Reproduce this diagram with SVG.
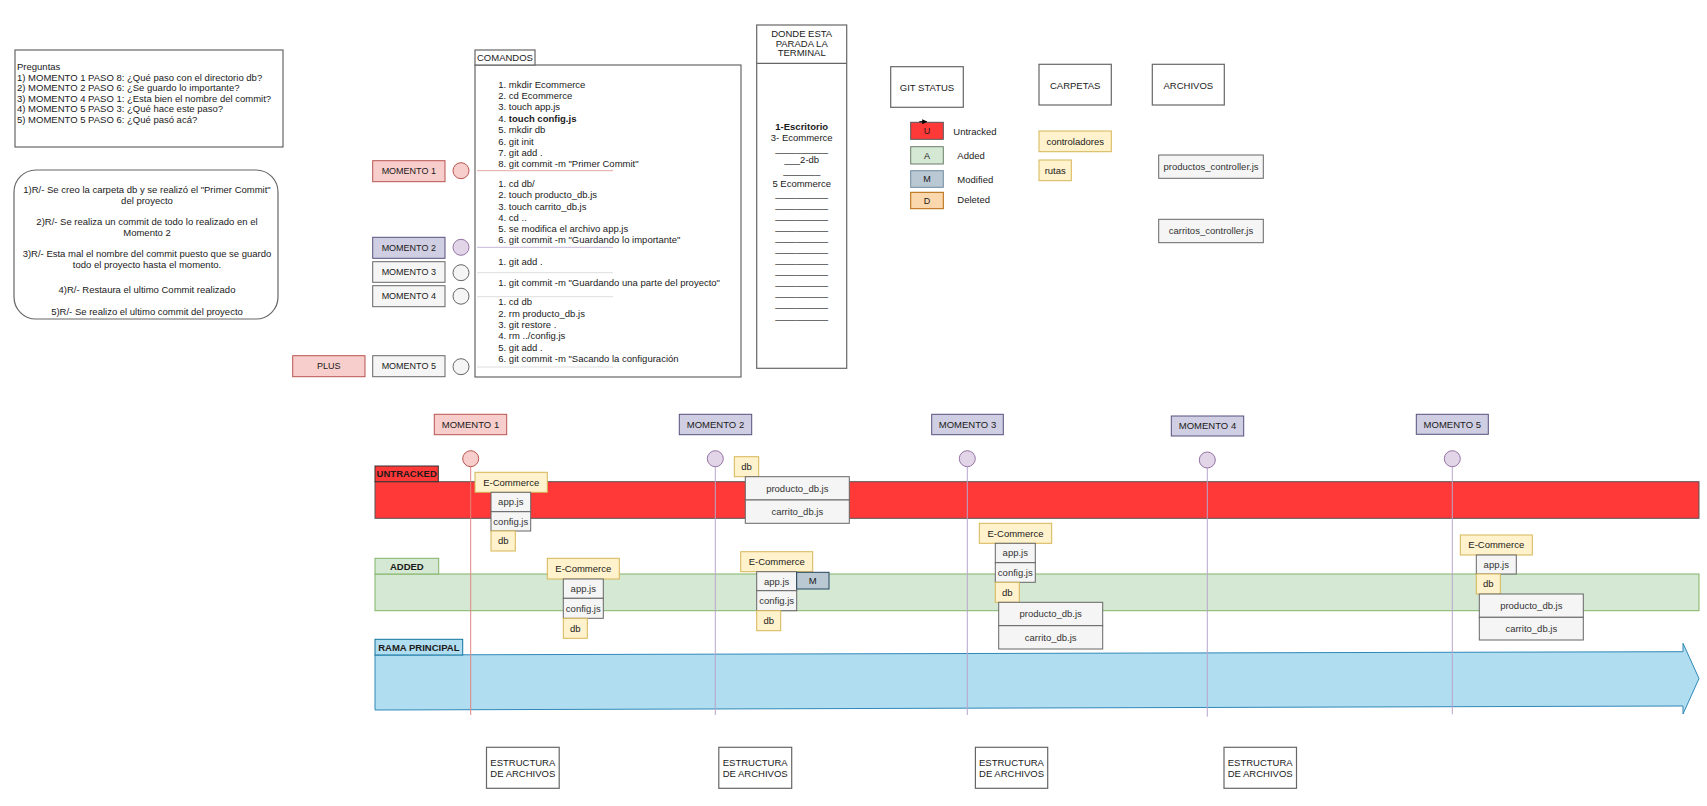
<svg xmlns="http://www.w3.org/2000/svg" width="1707" height="806" viewBox="0 0 1707 806">
  <style>
    text { font-family: "Liberation Sans", Arial, sans-serif; font-size: 9.5px; fill: #1a1a1a; }
    .c { text-anchor: middle; }
    .b { font-weight: bold; }
    .sm { font-size: 9px; }
    .frame { fill: #ffffff; stroke: #666666; stroke-width: 1.2; }
    .yel { fill: #fff2cc; stroke: #d6b656; }
    .file { fill: #f5f5f5; stroke: #666666; }
    .file + text, .ft { fill: #333333; }
    .red { fill: #f8cecc; stroke: #b85450; }
    .pur { fill: #d0cee2; stroke: #56517e; }
    .lil { fill: #e1d5e7; stroke: #9673a6; }
    .gry { fill: #f5f5f5; stroke: #666666; }
    .sepR { stroke: #e6a5a3; stroke-width: 1; }
    .sepP { stroke: #c7b7d9; stroke-width: 1; }
    .sepG { stroke: #dddddd; stroke-width: 1; }
  </style>
  <defs>
    <marker id="tip" viewBox="0 0 10 10" refX="9" refY="5" markerWidth="5" markerHeight="5" orient="auto">
      <path d="M0,0 L10,5 L0,10 z" fill="#000000"/>
    </marker>
  </defs>

  <rect width="1707" height="806" fill="#ffffff"/>

  <!-- Questions -->
  <g id="preguntas">
    <rect class="frame" x="15" y="50" width="268" height="97"/>
    <text x="17" y="70">Preguntas</text>
    <text x="17" y="80.7">1) MOMENTO 1 PASO 8: ¿Qué paso con el directorio db?</text>
    <text x="17" y="91.2">2) MOMENTO 2 PASO 6: ¿Se guardo lo importante?</text>
    <text x="17" y="101.8">3) MOMENTO 4 PASO 1: ¿Esta bien el nombre del commit?</text>
    <text x="17" y="112.3">4) MOMENTO 5 PASO 3: ¿Qué hace este paso?</text>
    <text x="17" y="122.8">5) MOMENTO 5 PASO 6: ¿Qué pasó acá?</text>
  </g>

  <!-- Answers -->
  <g id="respuestas">
    <rect class="frame" x="14" y="170" width="264" height="149" rx="22" ry="22"/>
    <text class="c" x="147" y="193">1)R/- Se creo la carpeta db y se realizó el "Primer Commit"</text>
    <text class="c" x="147" y="203.5">del proyecto</text>
    <text class="c" x="147" y="225">2)R/- Se realiza un commit de todo lo realizado en el</text>
    <text class="c" x="147" y="235.7">Momento 2</text>
    <text class="c" x="147" y="257.3">3)R/- Esta mal el nombre  del commit puesto que se guardo</text>
    <text class="c" x="147" y="268.2">todo el proyecto hasta el momento.</text>
    <text class="c" x="147" y="293.3">4)R/- Restaura el ultimo Commit realizado</text>
    <text class="c" x="147" y="315">5)R/- Se realizo el ultimo commit del proyecto</text>
  </g>

  <!-- Left moment markers -->
  <g id="momento1-izq">
    <rect class="red" x="372.7" y="160.7" width="72.3" height="21"/>
    <text class="c sm" x="408.8" y="174.4">MOMENTO 1</text>
    <circle class="red" cx="461" cy="170.7" r="8"/>
  </g>
  <g id="momento2-izq">
    <rect class="pur" x="372.7" y="237.3" width="72.3" height="21"/>
    <text class="c sm" x="408.8" y="251">MOMENTO 2</text>
    <circle class="lil" cx="461" cy="247.3" r="8"/>
  </g>
  <g id="momento3-izq">
    <rect class="gry" x="372.7" y="261.7" width="72.3" height="20.6"/>
    <text class="c sm" x="408.8" y="275.3">MOMENTO 3</text>
    <circle class="gry" cx="461" cy="272.7" r="8"/>
  </g>
  <g id="momento4-izq">
    <rect class="gry" x="372.7" y="285.7" width="72.3" height="21"/>
    <text class="c sm" x="408.8" y="299.4">MOMENTO 4</text>
    <circle class="gry" cx="461" cy="296.2" r="8"/>
  </g>
  <g id="momento5-izq">
    <rect class="gry" x="372.7" y="355.7" width="72.3" height="21"/>
    <text class="c sm" x="408.8" y="369.4">MOMENTO 5</text>
    <circle class="gry" cx="461" cy="366.7" r="8"/>
  </g>
  <g id="plus">
    <rect class="red" x="292.7" y="355.7" width="72.3" height="21"/>
    <text class="c sm" x="328.8" y="369.4">PLUS</text>
  </g>

  <!-- Commands -->
  <g id="comandos">
    <rect class="frame" x="475" y="65" width="266" height="312"/>
    <rect class="frame" x="475" y="50" width="60" height="15"/>
    <text x="477" y="61">COMANDOS</text>
    <text x="498.3" y="87.7">1. mkdir Ecommerce</text>
    <text x="498.3" y="99.1">2. cd Ecommerce</text>
    <text x="498.3" y="110.4">3. touch app.js</text>
    <text x="498.3" y="122.1">4. <tspan class="b">touch config.js</tspan></text>
    <text x="498.3" y="133.4">5. mkdir db</text>
    <text x="498.3" y="144.7">6. git init</text>
    <text x="498.3" y="156.1">7. git add .</text>
    <text x="498.3" y="167.4">8. git commit -m "Primer Commit"</text>
    <line class="sepR" x1="477" y1="170.7" x2="613" y2="170.7"/>
    <text x="498.3" y="186.7">1. cd db/</text>
    <text x="498.3" y="198.1">2. touch producto_db.js</text>
    <text x="498.3" y="209.5">3. touch carrito_db.js</text>
    <text x="498.3" y="220.9">4. cd ..</text>
    <text x="498.3" y="232.3">5. se modifica el archivo app.js</text>
    <text x="498.3" y="243.2">6. git commit -m "Guardando lo importante"</text>
    <line class="sepP" x1="477" y1="247.3" x2="613" y2="247.3"/>
    <text x="498.3" y="265.4">1. git add .</text>
    <line class="sepG" x1="477" y1="272.7" x2="613" y2="272.7"/>
    <text x="498.3" y="286">1. git commit -m "Guardando una parte del proyecto"</text>
    <line class="sepG" x1="477" y1="296.7" x2="613" y2="296.7"/>
    <text x="498.3" y="305">1. cd db</text>
    <text x="498.3" y="316.5">2. rm producto_db.js</text>
    <text x="498.3" y="327.8">3. git restore .</text>
    <text x="498.3" y="339.2">4. rm ../config.js</text>
    <text x="498.3" y="350.5">5. git add .</text>
    <text x="498.3" y="361.8">6. git commit -m "Sacando la configuración</text>
    <line class="sepG" x1="477" y1="367" x2="613" y2="367"/>
  </g>

  <!-- Terminal location -->
  <g id="terminal">
    <rect class="frame" x="756.7" y="25" width="90" height="343.3"/>
    <line x1="756.7" y1="63.3" x2="846.7" y2="63.3" stroke="#666666" stroke-width="1.2"/>
    <text class="c" x="801.7" y="37.3">DONDE ESTA</text>
    <text class="c" x="801.7" y="46.7">PARADA LA</text>
    <text class="c" x="801.7" y="56">TERMINAL</text>
    <text class="c b" x="801.7" y="130">1-Escritorio</text>
    <text class="c" x="801.7" y="140.6">3- Ecommerce</text>
    <text class="c" x="801.7" y="152">__________</text>
    <text class="c" x="801.7" y="163.2">___2-db</text>
    <text class="c" x="801.7" y="173.6">_______</text>
    <text class="c" x="801.7" y="186.6">5 Ecommerce</text>
    <text class="c" x="801.7" y="197">__________</text>
    <text class="c" x="801.7" y="208">__________</text>
    <text class="c" x="801.7" y="219">__________</text>
    <text class="c" x="801.7" y="230">__________</text>
    <text class="c" x="801.7" y="241">__________</text>
    <text class="c" x="801.7" y="252">__________</text>
    <text class="c" x="801.7" y="263">__________</text>
    <text class="c" x="801.7" y="274.3">__________</text>
    <text class="c" x="801.7" y="285.3">__________</text>
    <text class="c" x="801.7" y="296.3">__________</text>
    <text class="c" x="801.7" y="307.3">__________</text>
    <text class="c" x="801.7" y="318.6">__________</text>
  </g>

  <!-- Git status legend -->
  <g id="git-status">
    <rect class="frame" x="890.7" y="66.7" width="72.6" height="40.6"/>
    <text class="c" x="927" y="90.7">GIT STATUS</text>
  </g>
  <g id="leyenda-u">
    <rect x="910.7" y="122.3" width="32.6" height="17" fill="#ff3838" stroke="#555555"/>
    <text class="c sm" x="927" y="134.3">U</text>
    <text x="953.3" y="135">Untracked</text>
  </g>
  <g id="leyenda-a">
    <rect x="910.7" y="146.7" width="32.6" height="17.3" fill="#d5e8d4" stroke="#6b7d69"/>
    <text class="c sm" x="927" y="158.6">A</text>
    <text x="957.3" y="159">Added</text>
  </g>
  <g id="leyenda-m">
    <rect x="910.7" y="170.7" width="32.6" height="16.6" fill="#bac8d3" stroke="#6f8aa1"/>
    <text class="c sm" x="927" y="182.3">M</text>
    <text x="957.3" y="182.7">Modified</text>
  </g>
  <g id="leyenda-d">
    <rect x="910.7" y="192.3" width="32.6" height="16.4" fill="#fad7ac" stroke="#b46504"/>
    <text class="c sm" x="927" y="204">D</text>
    <text x="957.3" y="202.7">Deleted</text>
  </g>

  <g id="carpetas">
    <rect class="frame" x="1039" y="64.3" width="72.3" height="40.7"/>
    <text class="c" x="1075.2" y="89">CARPETAS</text>
  </g>
  <g id="controladores">
    <rect class="yel" x="1039" y="131" width="72.3" height="20.7"/>
    <text class="c" x="1075.2" y="145">controladores</text>
  </g>
  <g id="rutas">
    <rect class="yel" x="1039" y="160" width="32.3" height="20.7"/>
    <text class="c" x="1055.2" y="174">rutas</text>
  </g>

  <g id="archivos">
    <rect class="frame" x="1152.3" y="64.3" width="72" height="40.7"/>
    <text class="c" x="1188.3" y="89">ARCHIVOS</text>
  </g>
  <g id="productos-controller">
    <rect class="file" x="1158.7" y="155" width="104.6" height="23.3"/>
    <text class="c ft" x="1211" y="170">productos_controller.js</text>
  </g>
  <g id="carritos-controller">
    <rect class="file" x="1158.7" y="219.3" width="104.6" height="23.4"/>
    <text class="c ft" x="1211" y="234.4">carritos_controller.js</text>
  </g>

  <!-- Timeline lanes -->
  <g id="carril-untracked">
    <rect x="375" y="481.7" width="1324" height="36.6" fill="#ff3838" stroke="#555555"/>
    <rect x="375" y="466" width="63.3" height="15.7" fill="#ff3838" stroke="#333333"/>
    <text class="c b" x="406.7" y="477.3">UNTRACKED</text>
  </g>
  <g id="carril-added">
    <rect x="375" y="574" width="1324" height="36.7" fill="#d5e8d4" stroke="#82b366"/>
    <rect x="375" y="558.3" width="63.7" height="15.7" fill="#d5e8d4" stroke="#82b366"/>
    <text class="c b" x="406.8" y="569.6">ADDED</text>
  </g>
  <g id="rama-principal">
    <polygon points="375,655 1683,651.7 1683,643.3 1699,678.5 1683,714 1683,706 375,710" fill="#b1ddf0" stroke="#2f88b8"/>
    <rect x="375" y="639.3" width="87.7" height="15.7" fill="#b1ddf0" stroke="#10739e"/>
    <text class="c b" x="418.8" y="650.6">RAMA PRINCIPAL</text>
  </g>

  <!-- Moment lines on the timeline -->
  <g id="conectores">
    <line x1="470.7" y1="466.7" x2="470.7" y2="715" stroke="#e08581" stroke-width="1"/>
    <line x1="715.3" y1="466.7" x2="715.3" y2="715" stroke="#b9a5cc" stroke-width="1"/>
    <line x1="967.3" y1="466.7" x2="967.3" y2="715" stroke="#b9a5cc" stroke-width="1"/>
    <line x1="1207.3" y1="468" x2="1207.3" y2="716.7" stroke="#b9a5cc" stroke-width="1"/>
    <line x1="1452.3" y1="466.7" x2="1452.3" y2="714.3" stroke="#b9a5cc" stroke-width="1"/>
    <line x1="919.3" y1="121.7" x2="926.7" y2="121.7" stroke="#000000" stroke-width="1" marker-end="url(#tip)"/>
  </g>

  <!-- Moment headers on the timeline -->
  <g id="momento1">
    <rect class="red" x="434.3" y="414.3" width="72.4" height="20.4"/>
    <text class="c" x="470.5" y="427.8">MOMENTO 1</text>
    <circle class="red" cx="470.7" cy="458.7" r="8"/>
  </g>
  <g id="momento2">
    <rect class="pur" x="679.3" y="414.3" width="72.4" height="20.4"/>
    <text class="c" x="715.5" y="427.8">MOMENTO 2</text>
    <circle class="lil" cx="715.3" cy="458.7" r="8"/>
  </g>
  <g id="momento3">
    <rect class="pur" x="931.7" y="414.3" width="71.6" height="20.4"/>
    <text class="c" x="967.5" y="427.8">MOMENTO 3</text>
    <circle class="lil" cx="967.3" cy="458.7" r="8"/>
  </g>
  <g id="momento4">
    <rect class="pur" x="1171.3" y="416" width="72.4" height="20"/>
    <text class="c" x="1207.5" y="429.3">MOMENTO 4</text>
    <circle class="lil" cx="1207.3" cy="460" r="8"/>
  </g>
  <g id="momento5">
    <rect class="pur" x="1416.3" y="414.3" width="72" height="20"/>
    <text class="c" x="1452.3" y="427.6">MOMENTO 5</text>
    <circle class="lil" cx="1452.3" cy="458.7" r="8"/>
  </g>

  <!-- Moment 1 untracked tree -->
  <g id="m1-untracked">
    <rect class="yel" x="475" y="472.3" width="72.3" height="20"/>
    <text class="c" x="511.2" y="485.7">E-Commerce</text>
    <rect class="file" x="491" y="492.3" width="39.7" height="19.4"/>
    <text class="c ft" x="510.8" y="505.3">app.js</text>
    <rect class="file" x="491" y="511.7" width="39.7" height="19.3"/>
    <text class="c ft" x="510.8" y="524.7">config.js</text>
    <rect class="yel" x="491" y="531" width="24.3" height="20"/>
    <text class="c" x="503.2" y="544.4">db</text>
  </g>

  <!-- Moment 1 added tree -->
  <g id="m1-added">
    <rect class="yel" x="547.3" y="558.3" width="72" height="20.7"/>
    <text class="c" x="583.3" y="572">E-Commerce</text>
    <rect class="file" x="563.3" y="579" width="40" height="19.3"/>
    <text class="c ft" x="583.3" y="592">app.js</text>
    <rect class="file" x="563.3" y="598.3" width="40" height="20"/>
    <text class="c ft" x="583.3" y="611.7">config.js</text>
    <rect class="yel" x="563.3" y="618.3" width="24" height="20"/>
    <text class="c" x="575.3" y="631.7">db</text>
  </g>

  <!-- Moment 2 untracked tree -->
  <g id="m2-untracked">
    <rect class="yel" x="734.3" y="456.7" width="24.4" height="20"/>
    <text class="c" x="746.5" y="470">db</text>
    <rect class="file" x="745.3" y="476.7" width="104" height="23.3"/>
    <text class="c ft" x="797.3" y="491.7">producto_db.js</text>
    <rect class="file" x="745.3" y="500" width="104" height="23.3"/>
    <text class="c ft" x="797.3" y="515">carrito_db.js</text>
  </g>

  <!-- Moment 2 added tree -->
  <g id="m2-added">
    <rect class="yel" x="740.7" y="551.7" width="72" height="20"/>
    <text class="c" x="776.7" y="565">E-Commerce</text>
    <rect class="file" x="756.7" y="571.7" width="40" height="19"/>
    <text class="c ft" x="776.7" y="584.6">app.js</text>
    <rect x="796.7" y="572.3" width="32.3" height="16.7" fill="#bac8d3" stroke="#23445d"/>
    <text class="c" x="812.8" y="584">M</text>
    <rect class="file" x="756.7" y="590.7" width="40" height="20"/>
    <text class="c ft" x="776.7" y="604">config.js</text>
    <rect class="yel" x="756.7" y="610.7" width="24" height="20"/>
    <text class="c" x="768.7" y="624">db</text>
  </g>

  <!-- Moment 3 tree -->
  <g id="m3-added">
    <rect class="yel" x="979.3" y="523.3" width="72.4" height="20"/>
    <text class="c" x="1015.5" y="536.7">E-Commerce</text>
    <rect class="file" x="995.3" y="543.3" width="40" height="19.4"/>
    <text class="c ft" x="1015.3" y="556.3">app.js</text>
    <rect class="file" x="995.3" y="562.7" width="40" height="19.6"/>
    <text class="c ft" x="1015.3" y="575.8">config.js</text>
    <rect class="yel" x="995.3" y="582.3" width="24" height="20"/>
    <text class="c" x="1007.3" y="595.7">db</text>
    <rect class="file" x="998.7" y="602.3" width="104" height="23.4"/>
    <text class="c ft" x="1050.7" y="617.3">producto_db.js</text>
    <rect class="file" x="998.7" y="625.7" width="104" height="23.3"/>
    <text class="c ft" x="1050.7" y="640.7">carrito_db.js</text>
  </g>

  <!-- Moment 5 tree -->
  <g id="m5-added">
    <rect class="yel" x="1460.3" y="535" width="72" height="20"/>
    <text class="c" x="1496.3" y="548.4">E-Commerce</text>
    <rect class="file" x="1476.3" y="555" width="40" height="19"/>
    <text class="c ft" x="1496.3" y="567.9">app.js</text>
    <rect class="yel" x="1476.3" y="574" width="24" height="20"/>
    <text class="c" x="1488.3" y="587.4">db</text>
    <rect class="file" x="1479.3" y="594" width="104" height="23.3"/>
    <text class="c ft" x="1531.3" y="609">producto_db.js</text>
    <rect class="file" x="1479.3" y="617.3" width="104" height="22.7"/>
    <text class="c ft" x="1531.3" y="632">carrito_db.js</text>
  </g>

  <!-- File structure placeholders -->
  <g id="estructura1">
    <rect class="frame" x="486.5" y="747.3" width="72.7" height="41"/>
    <text class="c" x="522.8" y="765.8">ESTRUCTURA</text>
    <text class="c" x="522.8" y="776.5">DE ARCHIVOS</text>
  </g>
  <g id="estructura2">
    <rect class="frame" x="718.8" y="747.3" width="72.9" height="41"/>
    <text class="c" x="755.2" y="765.8">ESTRUCTURA</text>
    <text class="c" x="755.2" y="776.5">DE ARCHIVOS</text>
  </g>
  <g id="estructura3">
    <rect class="frame" x="975.4" y="747.3" width="72.3" height="41"/>
    <text class="c" x="1011.5" y="765.8">ESTRUCTURA</text>
    <text class="c" x="1011.5" y="776.5">DE ARCHIVOS</text>
  </g>
  <g id="estructura4">
    <rect class="frame" x="1224" y="747.3" width="72.5" height="41"/>
    <text class="c" x="1260.2" y="765.8">ESTRUCTURA</text>
    <text class="c" x="1260.2" y="776.5">DE ARCHIVOS</text>
  </g>
</svg>
